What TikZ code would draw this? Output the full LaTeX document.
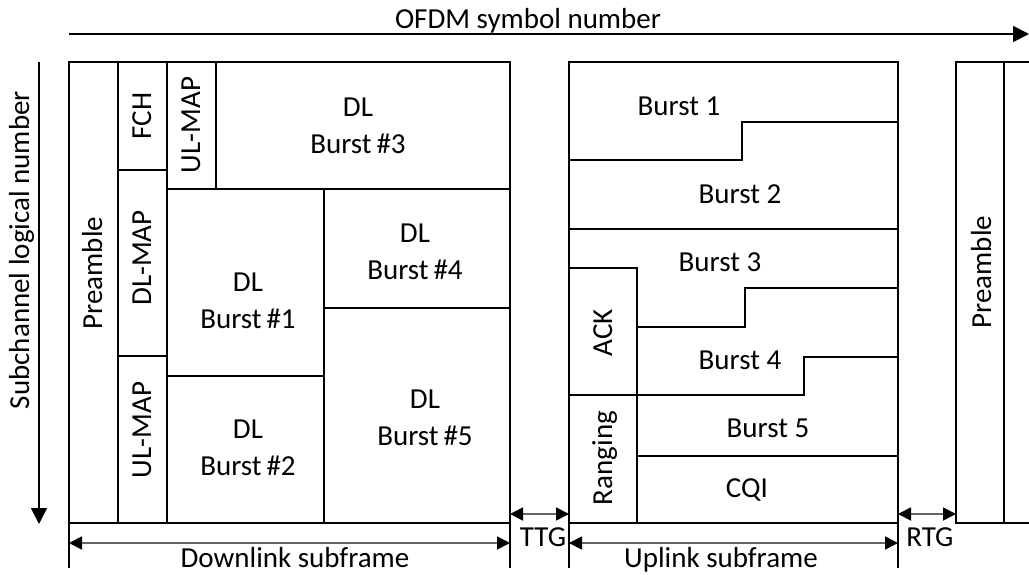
\documentclass[tikz,border=0pt]{standalone}
\usepackage{fontspec}
\setmainfont{Carlito}
\usetikzlibrary{arrows.meta}
\begin{document}
\begin{tikzpicture}[x=1pt,y=-1pt,
  lbl/.style={font=\fontsize{29}{37}\selectfont, align=center, inner sep=0pt},
  hlbl/.style={lbl, anchor=base},
  vlbl/.style={lbl, anchor=base, rotate=90},
  frame/.style={draw=black, line width=2pt},
  tick/.style={draw=black, line width=1.2pt},
  axis/.style={draw=black, line width=1.8pt, -{Triangle[length=16pt,width=16pt]}},
  dim/.style={draw=black!60, line width=1.8pt,
    {Triangle[length=13pt,width=13pt,color=black]}-{Triangle[length=13pt,width=13pt,color=black]}}]
\useasboundingbox (0,0) rectangle (1029,574);

% axes
\coordinate (ofdmA) at (69,34);
\coordinate (ofdmB) at (1029,34);
\draw[axis] (ofdmA) -- (ofdmB);
\node[hlbl] (ofdm) at (528,28) {OFDM symbol number};
\coordinate (subA) at (39,62);
\coordinate (subB) at (39,524);
\draw[axis] (subA) -- (subB);
\node[vlbl] (subch) at (29,250) {Subchannel logical number};

% downlink subframe
\draw[frame] (69,62) rectangle (510,523);
\draw[frame] (118,62) -- (118,523);
\draw[frame] (167,62) -- (167,523);
\draw[frame] (118,170) -- (167,170);
\draw[frame] (118,356) -- (167,356);
\draw[frame] (216,62) -- (216,189);
\draw[frame] (167,189) -- (510,189);
\draw[frame] (324,189) -- (324,523);
\draw[frame] (167,376) -- (324,376);
\draw[frame] (324,308) -- (510,308);

\node[vlbl] (pre1) at (102,273) {Preamble};
\node[vlbl] (fch) at (151,116) {FCH};
\node[vlbl] (ulmap1) at (200,125) {UL-MAP};
\node[vlbl] (dlmap) at (151,258) {DL-MAP};
\node[vlbl] (ulmap2) at (151,430) {UL-MAP};
\node[lbl] (dl3) at (358,126) {DL\\Burst\,\#3};
\node[lbl] (dl4) at (415,252) {DL\\Burst\,\#4};
\node[lbl] (dl1) at (248,301) {DL\\Burst\,\#1};
\node[lbl] (dl2) at (248,448) {DL\\Burst\,\#2};
\node[lbl] (dl5) at (425,418) {DL\\Burst\,\#5};

% uplink subframe
\draw[frame] (569,62) rectangle (898,523);
\draw[frame] (569,160) -- (742,160) -- (742,122) -- (898,122);
\draw[frame] (569,229) -- (898,229);
\draw[frame] (569,268) -- (637,268) -- (637,523);
\draw[frame] (637,327) -- (745,327) -- (745,288) -- (898,288);
\draw[frame] (569,395) -- (804,395) -- (804,357) -- (898,357);
\draw[frame] (637,456) -- (898,456);

\node[hlbl] (b1) at (679,115) {Burst 1};
\node[hlbl] (b2) at (740,203) {Burst 2};
\node[hlbl] (b3) at (720,271) {Burst 3};
\node[hlbl] (b4) at (740,369) {Burst 4};
\node[hlbl] (b5) at (768,437) {Burst 5};
\node[hlbl] (cqi) at (747,497) {CQI};
\node[vlbl] (ack) at (612,333) {ACK};
\node[vlbl] (rng) at (612,458) {Ranging};

% next frame
\draw[frame] (1029,62) -- (956,62) -- (956,523) -- (1029,523);
\draw[frame] (1004,62) -- (1004,523);
\node[vlbl] (pre2) at (991,272) {Preamble};

% dimension ticks
\draw[tick] (69,523) -- (69,568);
\draw[tick] (510,523) -- (510,568);
\draw[tick] (569,523) -- (569,568);
\draw[tick] (898,523) -- (898,568);

% dimension arrows
\coordinate (dlA) at (69,543);
\coordinate (dlB) at (510,543);
\coordinate (ttgA) at (510,514);
\coordinate (ttgB) at (569,514);
\coordinate (ulA) at (569,543);
\coordinate (ulB) at (898,543);
\coordinate (rtgA) at (898,514);
\coordinate (rtgB) at (956,514);
\draw[dim] (dlA) -- (dlB);
\draw[dim] (ttgA) -- (ttgB);
\draw[dim] (ulA) -- (ulB);
\draw[dim] (rtgA) -- (rtgB);

\node[hlbl] (dlsub) at (295,567) {Downlink subframe};
\node[hlbl] (ttg) at (543,546) {TTG};
\node[hlbl] (ulsub) at (721,567) {Uplink subframe};
\node[hlbl] (rtg) at (930,546) {RTG};
\end{tikzpicture}
\end{document}
